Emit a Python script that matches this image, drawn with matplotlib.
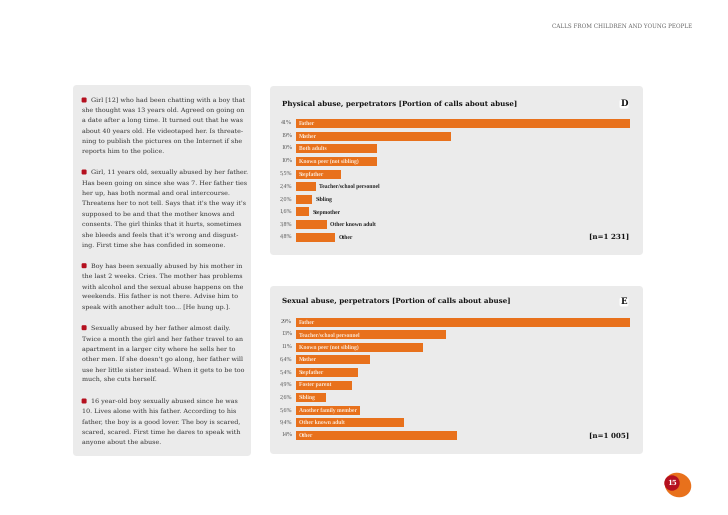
import matplotlib
matplotlib.use("Agg")
import matplotlib.pyplot as plt
from matplotlib.patches import FancyBboxPatch, Ellipse, Circle

plt.rcParams["text.hinting"] = "no_hinting"

W, H = 728, 515
ORANGE = "#e8711c"
PANEL = "#ebebeb"
RED = "#b5101f"
SERIF = "DejaVu Serif"
NARROW = "Liberation Serif"

header = "CALLS FROM CHILDREN AND YOUNG PEOPLE"

d_title = "Physical abuse, perpetrators [Portion of calls about abuse]"
d_letter = "D"
d_n = "[n=1 231]"
d_categories = ["Father", "Mother", "Both adults", "Known peer (not sibling)", "Stepfather",
                "Teacher/school personnel", "Sibling", "Stepmother", "Other known adult", "Other"]
d_values = [41, 19, 10, 10, 5.5, 2.4, 2.0, 1.6, 3.8, 4.8]
d_labels = ["41%", "19%", "10%", "10%", "5,5%", "2,4%", "2,0%", "1,6%", "3,8%", "4,8%"]
d_inside = [True, True, True, True, True, False, False, False, False, False]

e_title = "Sexual abuse, perpetrators [Portion of calls about abuse]"
e_letter = "E"
e_n = "[n=1 005]"
e_categories = ["Father", "Teacher/school personnel", "Known peer (not sibling)", "Mother", "Stepfather",
                "Foster parent", "Sibling", "Another family member", "Other known adult", "Other"]
e_values = [29, 13, 11, 6.4, 5.4, 4.9, 2.6, 5.6, 9.4, 14]
e_labels = ["29%", "13%", "11%", "6,4%", "5,4%", "4,9%", "2,6%", "5,6%", "9,4%", "14%"]
e_inside = [True] * 10

story_lines = [
    (100.0, "Girl [12] who had been chatting with a boy that", True),
    (110.0, "she thought was 13 years old. Agreed on going on", False),
    (120.3, "a date after a long time. It turned out that he was", False),
    (130.7, "about 40 years old. He videotaped her. Is threate-", False),
    (141.0, "ning to publish the pictures on the Internet if she", False),
    (151.5, "reports him to the police.", False),
    (172.0, "Girl, 11 years old, sexually abused by her father.", True),
    (182.7, "Has been going on since she was 7. Her father ties", False),
    (192.9, "her up, has both normal and oral intercourse.", False),
    (203.5, "Threatens her to not tell. Says that it's the way it's", False),
    (214.0, "supposed to be and that the mother knows and", False),
    (224.0, "consents. The girl thinks that it hurts, sometimes", False),
    (234.7, "she bleeds and feels that it's wrong and disgust-", False),
    (245.0, "ing. First time she has confided in someone.", False),
    (265.7, "Boy has been sexually abused by his mother in", True),
    (276.0, "the last 2 weeks. Cries. The mother has problems", False),
    (286.7, "with alcohol and the sexual abuse happens on the", False),
    (296.7, "weekends. His father is not there. Advise him to", False),
    (307.0, "speak with another adult too... [He hung up.].", False),
    (327.7, "Sexually abused by her father almost daily.", True),
    (338.7, "Twice a month the girl and her father travel to an", False),
    (349.0, "apartment in a larger city where he sells her to", False),
    (359.0, "other men. If she doesn't go along, her father will", False),
    (369.7, "use her little sister instead. When it gets to be too", False),
    (380.0, "much, she cuts herself.", False),
    (401.0, "16 year-old boy sexually abused since he was", True),
    (411.0, "10. Lives alone with his father. According to his", False),
    (421.7, "father, the boy is a good lover. The boy is scared,", False),
    (432.0, "scared, scared. First time he dares to speak with", False),
    (442.0, "anyone about the abuse.", False),
]
page_number = "15"

fig = plt.figure(figsize=(W / 100, H / 100), dpi=100, facecolor="white")
bg = fig.add_axes([0, 0, 1, 1])
bg.set_xlim(0, W)
bg.set_ylim(H, 0)
bg.axis("off")


def panel(x0, y0, x1, y1):
    bg.add_patch(FancyBboxPatch((x0 + 3, y0 + 3), x1 - x0 - 6, y1 - y0 - 6,
                                boxstyle="round,pad=3,rounding_size=4",
                                fc=PANEL, ec="none"))


def put(x, y, s, **kw):
    fig.text(x / W, 1 - y / H, s, va="center", **kw)


panel(73, 85, 251, 456)
panel(270, 86, 643, 255)
panel(270, 286, 643, 454)

put(692, 26.5, header, fontsize=4.1, family=SERIF, color="#666666", ha="right")

for y, line, first in story_lines:
    if first:
        bg.add_patch(FancyBboxPatch((82.5, y - 1.6), 3.2, 3.2, boxstyle="round,pad=0.9,rounding_size=1.2",
                                    fc=RED, ec="none"))
    put(91 if first else 81.6, y, line, fontsize=4.55, family=SERIF, color="#333333", ha="left")


def chart(categories, values, labels, inside, title, letter, n, c0, step, title_y, letter_y, n_y):
    left, right = 296, 630
    count = len(values)
    top = c0 - step / 2
    height = step * count
    ax = fig.add_axes([left / W, 1 - (top + height) / H, (right - left) / W, height / H])
    ax.set_xlim(0, max(values))
    ax.set_ylim(count - 0.5, -0.5)
    ax.axis("off")
    ax.patch.set_alpha(0)
    ax.barh(range(count), values, height=0.72, color=ORANGE, linewidth=0)
    scale = (right - left) / max(values)
    for i, (v, cat, lab, ins) in enumerate(zip(values, categories, labels, inside)):
        y = c0 + i * step
        put(292, y, lab, fontsize=4.3, family=NARROW, color="#555555", ha="right")
        if ins:
            put(299, y, cat, fontsize=4.1, family=NARROW, weight="bold", color="#fde9d8", ha="left")
        else:
            put(left + v * scale + 3.3, y, cat, fontsize=4.1, family=NARROW, weight="bold",
                color="#222222", ha="left")
    put(281.5, title_y, title, fontsize=5.1, family=SERIF, weight="bold", color="#111111", ha="left")
    bg.add_patch(FancyBboxPatch((621, letter_y - 3), 6, 6, boxstyle="round,pad=1.5,rounding_size=2",
                                fc="white", ec="none"))
    put(624, letter_y, letter, fontsize=6.2, family=SERIF, weight="bold", color="#111111", ha="center")
    put(629, n_y, n, fontsize=5.1, family=SERIF, weight="bold", color="#111111", ha="right")


chart(d_categories, d_values, d_labels, d_inside, d_title, d_letter, d_n,
      123.7, 12.6, 103.5, 104, 237.5)
chart(e_categories, e_values, e_labels, e_inside, e_title, e_letter, e_n,
      322.3, 12.55, 301, 302, 436)

bg.add_patch(Ellipse((678, 485), 27, 24, angle=25, fc=ORANGE, ec="none"))
bg.add_patch(Circle((672, 483), 7.7, fc=RED, ec="none"))
put(672, 483.3, page_number, fontsize=5, family=SERIF, weight="bold", color="white", ha="center")

fig.savefig("out.png", dpi=100, facecolor="white")
